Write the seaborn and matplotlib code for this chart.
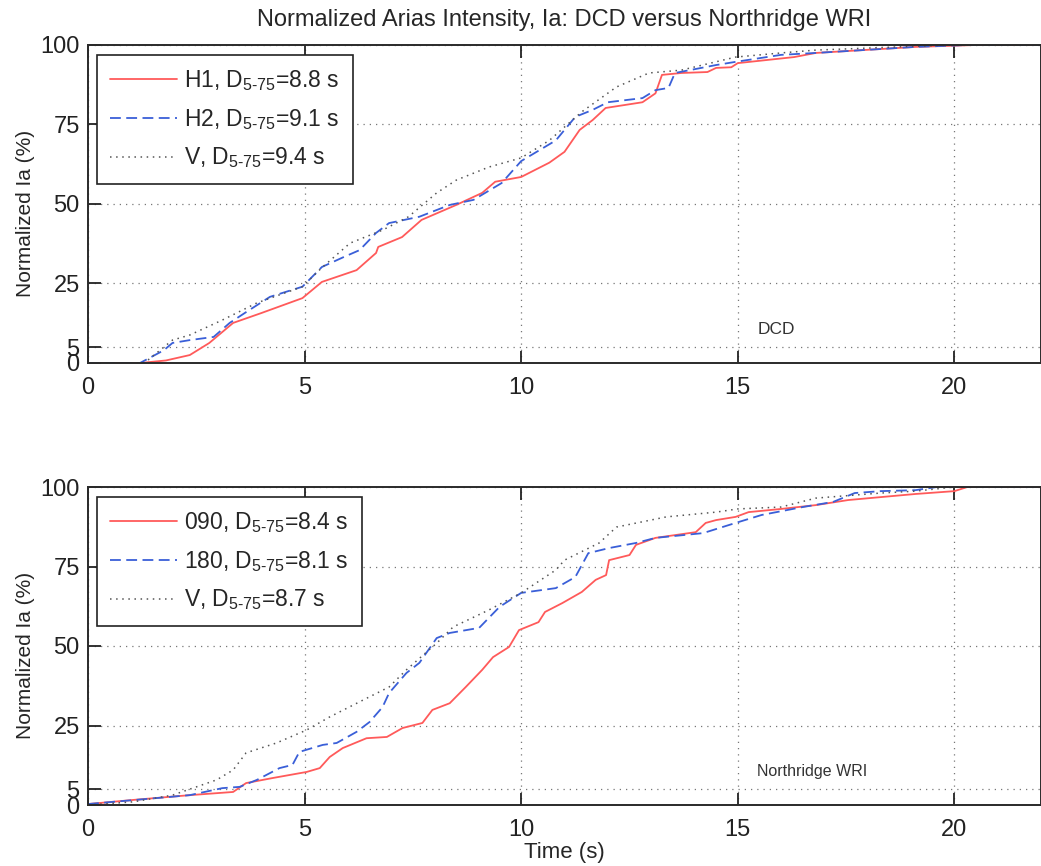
import numpy as np
import pandas as pd
import seaborn as sns
import matplotlib
matplotlib.use("Agg")
import matplotlib.pyplot as plt

# ---------------- data ----------------
# Top panel: DCD
dcd_h1_t = [0, 1.2, 1.8, 2.35, 2.8, 3.35, 4.0, 4.95, 5.4, 6.2, 6.65, 6.7, 7.25, 7.7, 8.5, 9.1, 9.4,
            10.0, 10.65, 11.0, 11.35, 11.65, 11.95, 12.8, 13.1, 13.25, 13.7, 14.3, 14.5, 14.85, 15.0,
            16.3, 16.8, 19.1, 20.5, 22]
dcd_h1_v = [0, 0, 0.8, 2.5, 6.3, 12.6, 15.7, 20.4, 25.5, 29.2, 34.6, 36.5, 39.6, 45, 49.7, 53.5, 57,
            58.5, 63, 66.4, 73.3, 76.4, 80.2, 82, 84.8, 90.6, 91.2, 91.5, 92.8, 93, 94.3,
            96.2, 97.5, 99.4, 100, 100]

dcd_h2_t = [0, 1.2, 1.75, 1.95, 2.35, 2.9, 3.27, 3.65, 4.2, 4.95, 5.4, 5.9, 6.27, 6.65, 6.95, 7.65,
            8.35, 8.9, 9.55, 10.0, 10.8, 11.25, 11.65, 12.0, 12.8, 13.1, 13.4, 13.55, 14.5, 14.95,
            16.0, 16.8, 19.1, 20.3, 22]
dcd_h2_v = [0, 0, 4, 6.3, 7.2, 8.2, 12.6, 16, 20.8, 24, 30.2, 33.3, 35.5, 40.9, 44, 46,
            49.7, 51.3, 56.6, 63.5, 70, 77.4, 79.6, 82, 83.3, 85.8, 86.5, 91.2, 93.7, 94.7,
            96.9, 97.5, 99.4, 100, 100]

dcd_v_t = [0, 1.3, 1.95, 2.35, 3.1, 3.9, 4.95, 5.4, 6.05, 6.8, 7.4, 8.05, 8.5, 9.25, 10.0, 10.65,
           11.4, 12.2, 12.95, 13.7, 14.95, 16.0, 16.8, 19.1, 20.0, 22]
dcd_v_v = [0, 0, 7.2, 8.8, 13.5, 18.9, 24, 30, 37.7, 41.8, 46, 53.5, 57.5, 61.6, 64.5, 70,
           79, 86.8, 91.2, 92.1, 96.2, 97.5, 98.4, 99.6, 100, 100]

# Bottom panel: Northridge WRI
wri_090_t = [0, 1.05, 2.35, 3.35, 3.65, 4.27, 5.05, 5.35, 5.58, 5.88, 6.43, 6.9, 7.26, 7.72, 7.95,
             8.35, 8.72, 9.1, 9.35, 9.72, 9.95, 10.4, 10.55, 10.95, 11.4, 11.72, 11.96, 12.03,
             12.5, 12.65, 13.1, 14.03, 14.26, 14.5, 14.95, 15.25, 16.0, 16.8, 17.55, 19.1, 20.0,
             20.3, 22]
wri_090_v = [0.3, 1.6, 3.1, 4.1, 6.9, 8.5, 10.4, 11.6, 15.1, 17.9, 21, 21.4, 24.2, 25.8, 29.9,
             32, 37.1, 42.5, 46.5, 49.7, 55, 57.5, 60.7, 63.5, 67, 70.8, 72.3, 77,
             78.6, 81.8, 84, 85.8, 88.7, 89.6, 90.6, 92.1, 93.1, 94.3, 95.9, 97.8, 98.7,
             100, 100]

wri_180_t = [0, 1.6, 2.35, 3.1, 3.5, 3.9, 4.42, 4.72, 4.88, 5.42, 5.74, 6.2, 6.5, 6.8, 6.95, 7.35,
             7.65, 8.05, 8.35, 9.03, 9.5, 10.0, 10.8, 11.25, 11.55, 12.03, 12.65, 13.1, 14.2,
             14.95, 15.55, 16.5, 17.2, 17.7, 18.3, 19.1, 19.6, 22]
wri_180_v = [0.3, 2.2, 3.1, 5.3, 5.7, 7.9, 11.6, 12.6, 16.7, 18.9, 19.5, 23, 26.1, 30.8, 35.2, 41.5,
             44.7, 52.5, 54.1, 55.7, 62.3, 66.7, 68.2, 71.7, 79.2, 80.8, 82.4, 84, 85.5,
             88.7, 91.2, 93.7, 95.3, 98.1, 98.7, 99, 100, 100]

wri_v_t = [0, 1.05, 1.95, 2.97, 3.35, 3.65, 4.35, 5.05, 5.58, 6.35, 6.95, 7.35, 8.05, 8.43, 9.25,
           10.0, 10.8, 11.0, 11.8, 12.2, 13.35, 14.5, 15.0, 16.0, 16.8, 18.3, 19.1, 20.0, 22]
wri_v_v = [0, 1, 3.1, 7.9, 11, 16.4, 19.5, 23.6, 27.7, 33, 37.1, 42.5, 50.9, 56, 61.3,
           66.7, 73.9, 77, 82.4, 87.4, 90.6, 92.1, 93.1, 93.7, 96.5, 98.1, 98.7, 100, 100]

top_labels = ["H1", "H2", "V"]
top_d575 = [8.8, 9.1, 9.4]
bot_labels = ["090", "180", "V"]
bot_d575 = [8.4, 8.1, 8.7]

x_ticks = [0, 5, 10, 15, 20]
y_ticks = [0, 5, 25, 50, 75, 100]

title = "Normalized Arias Intensity, Ia: DCD versus Northridge WRI"
ylabel = "Normalized Ia (%)"
xlabel = "Time (s)"

# ---------------- style ----------------
sns.set_theme(style="white")
plt.rcParams["font.family"] = ["Liberation Sans", "DejaVu Sans"]
plt.rcParams["mathtext.fontset"] = "custom"
plt.rcParams["mathtext.rm"] = "Liberation Sans"
plt.rcParams["mathtext.it"] = "Liberation Sans"
plt.rcParams["mathtext.bf"] = "Liberation Sans"

colors = ["#ff5a5a", "#3a5fd8", "#555555"]
styles = ["-", (0, (6, 3)), (0, (1, 3))]
widths = [1.3, 1.3, 1.1]

fig = plt.figure(figsize=(10.41, 8.66), dpi=100)
ax1 = fig.add_axes([88 / 1041, 1 - 363 / 866, (1041 - 88) / 1041, 318 / 866])
ax2 = fig.add_axes([88 / 1041, 1 - 805 / 866, (1041 - 88) / 1041, 318 / 866])


def make_label(name, d):
    return name + r", D$_{\mathregular{5\text{-}75}}$=" + f"{d} s"


panels = [
    (ax1, [(dcd_h1_t, dcd_h1_v), (dcd_h2_t, dcd_h2_v), (dcd_v_t, dcd_v_v)], top_labels, top_d575,
     "DCD", 12.5),
    (ax2, [(wri_090_t, wri_090_v), (wri_180_t, wri_180_v), (wri_v_t, wri_v_v)], bot_labels, bot_d575,
     "Northridge WRI", 11.5),
]

for ax, series, labels, durs, note, note_fs in panels:
    for i, ((t, v), name, d) in enumerate(zip(series, labels, durs)):
        df = pd.DataFrame({"t": t, "v": v})
        sns.lineplot(data=df, x="t", y="v", ax=ax, color=colors[i], linestyle=styles[i],
                     linewidth=widths[i], label=make_label(name, d), estimator=None, sort=False)
    ax.set_xlim(0, 22)
    ax.set_ylim(0, 100)
    ax.set_xticks(x_ticks)
    ax.set_yticks(y_ticks)
    ax.grid(True, color="#777777", linestyle=(0, (1, 4)), linewidth=0.9)
    ax.tick_params(direction="in", length=9, width=1.3, labelsize=17, top=True, bottom=True,
                   left=True, right=False, pad=6, colors="#222222")
    ax.tick_params(axis="x", pad=10)
    for sp in ax.spines.values():
        sp.set_color("#2a2a2a")
        sp.set_linewidth(1.4)
    ax.set_xlabel("")
    ax.set_ylabel(ylabel, fontsize=15)
    ax.yaxis.set_label_coords(-0.056, 0.47)
    leg = ax.legend(loc="upper left", bbox_to_anchor=(0.009, 0.97), fontsize=16.5, frameon=True,
                    fancybox=False, edgecolor="#222222", framealpha=1, handlelength=2.9,
                    borderpad=0.6, labelspacing=0.6, handletextpad=0.3, borderaxespad=0)
    leg.get_frame().set_linewidth(1.2)
    ax.text(15.45, 10.5, note, fontsize=note_fs, color="#333333", va="center", ha="left")

ax1.set_title(title, fontsize=17, pad=14)
ax2.set_xlabel(xlabel, fontsize=16, labelpad=1)

fig.savefig("out.png", dpi=100)
